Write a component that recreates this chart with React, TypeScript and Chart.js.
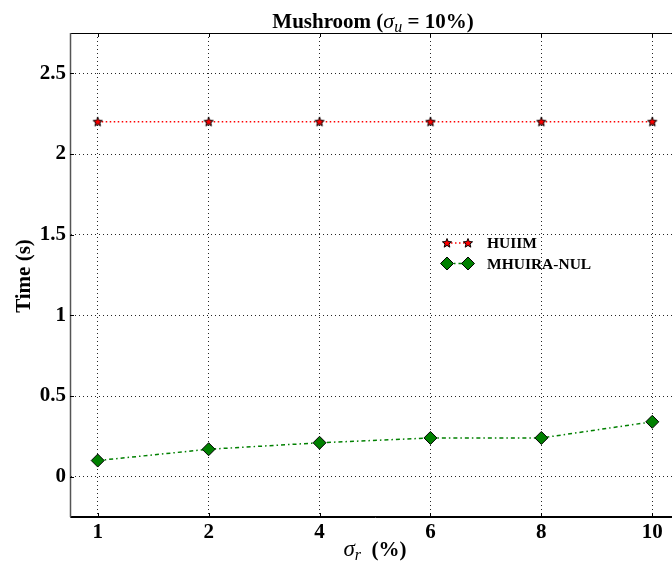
import React, { useEffect, useRef } from 'react';
import { Chart, registerables } from 'chart.js';
Chart.register(...registerables);

const categories = ['1', '2', '4', '6', '8', '10'];
const huiimTimes = [2.2, 2.2, 2.2, 2.2, 2.2, 2.2];
const mhuiraTimes = [0.1, 0.17, 0.21, 0.24, 0.24, 0.34];
const yTickValues = [0, 0.5, 1, 1.5, 2, 2.5];
const yTickLabels = ['0', '0.5', '1', '1.5', '2', '2.5'];
const seriesLabels = ['HUIIM', 'MHUIRA-NUL'];

const SERIF = '"Liberation Serif", "Times New Roman", serif';

function makeStar(): HTMLCanvasElement {
  const c = document.createElement('canvas');
  c.width = 12;
  c.height = 12;
  const ctx = c.getContext('2d')!;
  const cx = 6, cy = 6.3, ro = 4.8, ri = 2.1;
  ctx.beginPath();
  for (let i = 0; i < 10; i++) {
    const r = i % 2 === 0 ? ro : ri;
    const a = -Math.PI / 2 + (i * Math.PI) / 5;
    const px = cx + r * Math.cos(a);
    const py = cy + r * Math.sin(a);
    if (i === 0) ctx.moveTo(px, py);
    else ctx.lineTo(px, py);
  }
  ctx.closePath();
  ctx.fillStyle = '#ff0000';
  ctx.fill();
  ctx.lineWidth = 1;
  ctx.strokeStyle = '#000000';
  ctx.stroke();
  return c;
}

function drawRich(ctx: CanvasRenderingContext2D, parts: { t: string; f: string; dy?: number }[], cx: number, y: number) {
  let total = 0;
  for (const p of parts) {
    ctx.font = p.f;
    total += ctx.measureText(p.t).width;
  }
  let x = cx - total / 2;
  ctx.textAlign = 'left';
  ctx.textBaseline = 'alphabetic';
  for (const p of parts) {
    ctx.font = p.f;
    ctx.fillText(p.t, x, y + (p.dy || 0));
    x += ctx.measureText(p.t).width;
  }
}

const decorPlugin = {
  id: 'decor',
  afterDraw(chart: any) {
    const ctx: CanvasRenderingContext2D = chart.ctx;
    const a = chart.chartArea;
    const xs = chart.scales.x;
    const ys = chart.scales.y;
    ctx.save();
    // frame
    ctx.strokeStyle = '#000';
    ctx.lineWidth = 1;
    ctx.setLineDash([]);
    ctx.strokeRect(a.left + 0.5, a.top + 0.5, a.right - a.left - 1, a.bottom - a.top - 1);
    ctx.lineWidth = 1.5;
    ctx.strokeStyle = '#555';
    ctx.beginPath();
    ctx.moveTo(a.left + 0.5, a.top);
    ctx.lineTo(a.left + 0.5, a.bottom);
    ctx.stroke();
    // inward ticks
    ctx.strokeStyle = '#000';
    ctx.lineWidth = 1;
    ctx.beginPath();
    for (let i = 0; i < categories.length; i++) {
      const px = Math.round(xs.getPixelForValue(i)) + 0.5;
      ctx.moveTo(px, a.bottom);
      ctx.lineTo(px, a.bottom - 4);
      ctx.moveTo(px, a.top);
      ctx.lineTo(px, a.top + 4);
    }
    for (const v of yTickValues) {
      const py = Math.round(ys.getPixelForValue(v)) + 0.5;
      ctx.moveTo(a.left, py);
      ctx.lineTo(a.left + 4, py);
      ctx.moveTo(a.right, py);
      ctx.lineTo(a.right - 4, py);
    }
    ctx.stroke();

    // title
    ctx.fillStyle = '#000';
    const cx = (a.left + a.right) / 2;
    drawRich(ctx, [
      { t: 'Mushroom (', f: `bold 21px ${SERIF}` },
      { t: 'σ', f: `italic 22px ${SERIF}` },
      { t: 'u', f: `italic 16px ${SERIF}`, dy: 4 },
      { t: ' = 10%)', f: `bold 21px ${SERIF}` },
    ], cx - 2, 28);
    // x title
    drawRich(ctx, [
      { t: 'σ', f: `italic 23px ${SERIF}` },
      { t: 'r', f: `italic 16px ${SERIF}`, dy: 4 },
      { t: '  (%)', f: `bold 21px ${SERIF}` },
    ], cx, 556);
    // y title
    ctx.save();
    ctx.translate(25, (a.top + a.bottom) / 2 + 1);
    ctx.rotate(-Math.PI / 2);
    ctx.font = `bold 21px ${SERIF}`;
    ctx.textAlign = 'center';
    ctx.textBaseline = 'middle';
    ctx.fillText('Time (s)', 0, 0);
    ctx.restore();

    // legend
    const ds = chart.data.datasets;
    for (let i = 0; i < ds.length; i++) {
      const d = ds[i];
      const y = 243 + i * 20.5;
      const x1 = 447, x2 = 468;
      ctx.save();
      ctx.strokeStyle = d.borderColor;
      ctx.lineWidth = d.borderWidth;
      ctx.setLineDash(d.borderDash || []);
      ctx.beginPath();
      ctx.moveTo(x1, y);
      ctx.lineTo(x2, y);
      ctx.stroke();
      ctx.restore();
      for (const mx of [x1, x2]) {
        if (d.pointStyle instanceof HTMLCanvasElement) {
          const img = d.pointStyle as HTMLCanvasElement;
          ctx.drawImage(img, mx - img.width / 2, y - img.height / 2);
        } else {
          ctx.save();
          ctx.fillStyle = d.pointBackgroundColor;
          ctx.strokeStyle = d.pointBorderColor;
          ctx.lineWidth = 1;
          const r = d.pointRadius;
          ctx.beginPath();
          ctx.moveTo(mx, y - r);
          ctx.lineTo(mx + r, y);
          ctx.lineTo(mx, y + r);
          ctx.lineTo(mx - r, y);
          ctx.closePath();
          ctx.fill();
          ctx.stroke();
          ctx.restore();
        }
      }
      ctx.fillStyle = '#000';
      ctx.font = `bold 15.5px ${SERIF}`;
      ctx.textAlign = 'left';
      ctx.textBaseline = 'middle';
      ctx.fillText(d.label, 487, y + 1);
    }
    ctx.restore();
  },
};

export default function App() {
  const ref = useRef<HTMLCanvasElement>(null);
  useEffect(() => {
    if (!ref.current) return;
    const star = makeStar();
    const chart = new Chart(ref.current, {
      type: 'line',
      data: {
        datasets: [
          {
            label: seriesLabels[0],
            data: huiimTimes.map((v, i) => ({ x: i, y: v })),
            borderColor: '#ff0000',
            borderWidth: 1.5,
            borderDash: [1.5, 2.5],
            pointStyle: star,
            pointRadius: 5,
            pointBackgroundColor: '#ff0000',
            pointBorderColor: '#000',
            fill: false,
          },
          {
            label: seriesLabels[1],
            data: mhuiraTimes.map((v, i) => ({ x: i, y: v })),
            borderColor: '#008000',
            borderWidth: 1.5,
            borderDash: [4, 3, 1.5, 3],
            pointStyle: 'rectRot',
            pointRadius: 6.5,
            pointBackgroundColor: '#008000',
            pointBorderColor: '#000',
            pointBorderWidth: 1,
            fill: false,
          },
        ] as any,
      },
      options: {
        animation: false,
        responsive: false,
        devicePixelRatio: 1,
        layout: { padding: { top: 33, right: 10, left: 0, bottom: 0 } },
        plugins: { legend: { display: false }, title: { display: false }, tooltip: { enabled: false } },
        scales: {
          x: {
            type: 'linear',
            min: -0.25,
            max: 5.25,
            afterBuildTicks: (s: any) => {
              s.ticks = categories.map((_, i) => ({ value: i }));
            },
            afterFit: (s: any) => {
              s.height = 49;
            },
            ticks: {
              callback: (v: any) => categories[Math.round(Number(v))] ?? '',
              font: { family: SERIF, size: 21, weight: 'bold' },
              color: '#000',
              padding: 3,
              maxRotation: 0,
              autoSkip: false,
            },
            grid: { color: 'rgba(0,0,0,0.85)', lineWidth: 1, drawTicks: false },
            border: { display: true, color: '#000', width: 1, dash: [1, 3] },
          },
          y: {
            type: 'linear',
            min: -0.25,
            max: 2.75,
            afterBuildTicks: (s: any) => {
              s.ticks = yTickValues.map((v) => ({ value: v }));
            },
            afterFit: (s: any) => {
              s.width = 70;
            },
            ticks: {
              callback: (v: any) => {
                const idx = yTickValues.indexOf(Number(v));
                return idx >= 0 ? yTickLabels[idx] : '';
              },
              font: { family: SERIF, size: 21, weight: 'bold' },
              color: '#000',
              padding: 4,
              autoSkip: false,
            },
            grid: { color: 'rgba(0,0,0,0.85)', lineWidth: 1, drawTicks: false },
            border: { display: true, color: '#555', width: 1, dash: [1, 3] },
          },
        },
      },
      plugins: [decorPlugin],
    } as any);
    return () => chart.destroy();
  }, []);
  return (
    <div style={{ position: 'fixed', left: 0, top: 0, width: 672, height: 566, overflow: 'hidden', background: '#fff' }}>
      <canvas ref={ref} width={690} height={566} style={{ display: 'block', width: 690, height: 566 }} />
    </div>
  );
}
